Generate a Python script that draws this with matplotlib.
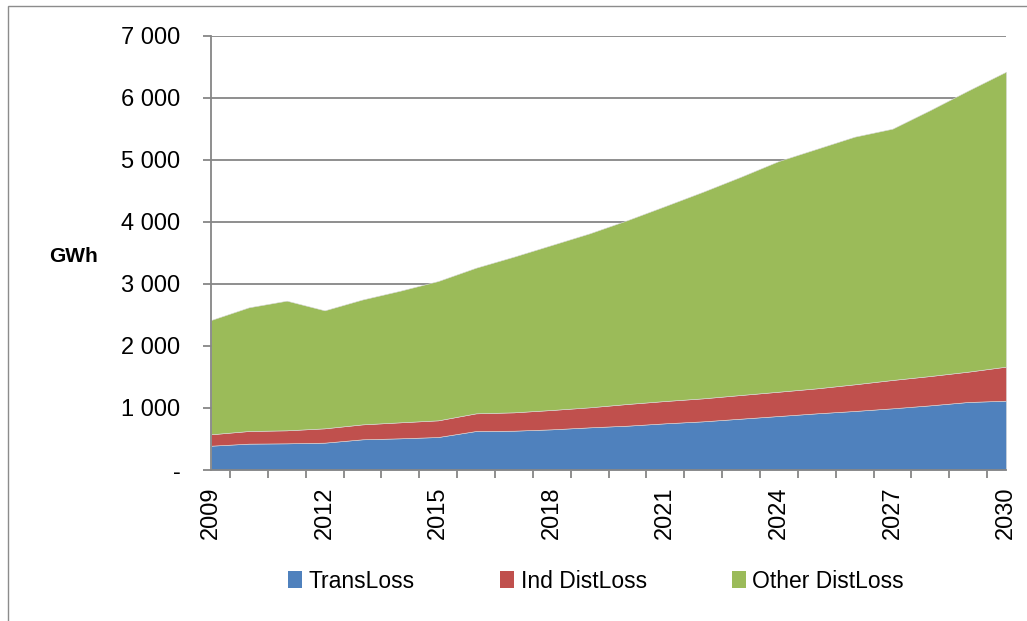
import numpy as np
import matplotlib
matplotlib.use("Agg")
import matplotlib.pyplot as plt
from matplotlib.patches import Rectangle
from matplotlib.ticker import FuncFormatter, MultipleLocator

years = list(range(2009, 2031))
trans_loss = [392, 425, 430, 441, 495, 511, 532, 629, 634, 656, 688,
              715, 753, 785, 828, 871, 914, 952, 995, 1043, 1097, 1118]
ind_dist_loss = [184, 204, 210, 231, 241, 258, 269, 285, 296, 312, 323,
                 350, 360, 371, 382, 392, 403, 430, 457, 473, 489, 549]
other_dist_loss = [1843, 1995, 2091, 1903, 2014, 2123, 2247, 2349, 2511, 2661, 2806,
                   2965, 3145, 3333, 3521, 3721, 3863, 3994, 4053, 4290, 4534, 4757]
labels = ["TransLoss", "Ind DistLoss", "Other DistLoss"]
colors = ["#4F81BD", "#C0504D", "#9BBB59"]

GRID = "#868686"
FONT = "Liberation Sans"

fig = plt.figure(figsize=(10.27, 6.21), dpi=100)
# chart border (only top/left are visible in the reference crop)
fig.patches.append(Rectangle((8 / 1027, -0.1), 1.2, 1 - 6 / 621 + 0.1,
                             transform=fig.transFigure, fill=False,
                             edgecolor="#8c8c8c", lw=1.0))

ax = fig.add_axes([211 / 1027, 1 - 470 / 621, (1006 - 211) / 1027, (470 - 36) / 621])
ax.stackplot(years, trans_loss, ind_dist_loss, other_dist_loss,
             colors=colors, labels=labels, edgecolor="#d9d9d9", linewidth=0.4)

ax.set_xlim(2009, 2030)
ax.set_ylim(0, 7000)
ax.yaxis.set_major_locator(MultipleLocator(1000))
ax.yaxis.set_major_formatter(FuncFormatter(
    lambda v, p: "-" if v == 0 else f"{int(v):,}".replace(",", " ")))
ax.grid(axis="y", color=GRID, lw=1.3)
ax.set_axisbelow(True)

for s in ["top", "right"]:
    ax.spines[s].set_visible(False)
for s in ["left", "bottom"]:
    ax.spines[s].set_color(GRID)
    ax.spines[s].set_linewidth(1.3)

ax.tick_params(axis="y", length=6, width=1.3, color=GRID, pad=16, labelsize=17)
for t in ax.get_yticklabels():
    t.set_fontfamily(FONT)

# year labels every 3 years, tick marks between categories
ax.set_xticks(years[::3])
ax.set_xticklabels([str(y) for y in years[::3]], rotation=90,
                   fontfamily=FONT, fontsize=17)
ax.tick_params(axis="x", length=0, pad=12)
minor = [y + 0.5 for y in years[:-1]] + [2030]
ax.set_xticks(minor, minor=True)
ax.tick_params(axis="x", which="minor", length=6, width=1.3, color=GRID)

fig.text(74 / 1027, 1 - 256 / 621, "GWh", fontsize=15, fontweight="bold",
         fontfamily=FONT, ha="center", va="center")

leg = fig.legend(loc="center", bbox_to_anchor=(596 / 1027, 1 - 581 / 621),
                 ncol=3, frameon=False, handlelength=0.63, handleheight=0.75,
                 handletextpad=0.28, columnspacing=3.7,
                 prop={"family": FONT, "size": 16.5})
for h in leg.legend_handles:
    h.set_edgecolor("none")

fig.savefig("out.png", dpi=100)
